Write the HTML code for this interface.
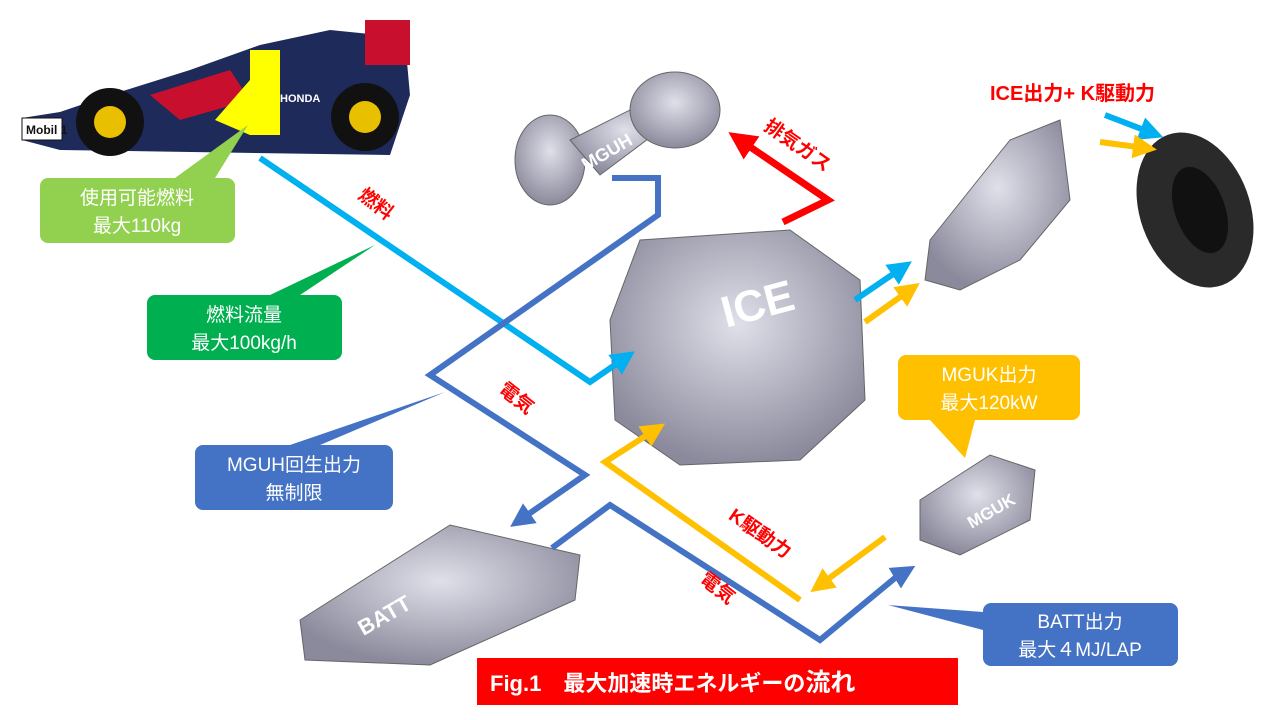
<!DOCTYPE html>
<html><head><meta charset="utf-8"><style>
body{margin:0;background:#fff;}
svg{display:block;font-family:"Liberation Sans","Noto Sans CJK JP",sans-serif;}
</style></head><body>
<svg width="1280" height="720" viewBox="0 0 1280 720">
<defs>
<marker id="ab" markerWidth="4" markerHeight="4" refX="2" refY="2" orient="auto"><path d="M0,0 L4,2 L0,4 z" fill="#00b0f0"/></marker>
<marker id="ad" markerWidth="4" markerHeight="4" refX="2" refY="2" orient="auto"><path d="M0,0 L4,2 L0,4 z" fill="#4472c4"/></marker>
<marker id="ao" markerWidth="4" markerHeight="4" refX="2" refY="2" orient="auto"><path d="M0,0 L4,2 L0,4 z" fill="#ffc000"/></marker>
<marker id="ar" markerWidth="4" markerHeight="4" refX="2" refY="2" orient="auto"><path d="M0,0 L4,2 L0,4 z" fill="#ff0000"/></marker>
<radialGradient id="gm" cx="50%" cy="40%" r="60%"><stop offset="0" stop-color="#e0e0ea"/><stop offset="1" stop-color="#8a8a9c"/></radialGradient>
</defs>

<!-- car -->
<path d="M22,118 L60,112 L110,95 L190,70 L260,45 L330,30 L380,35 L405,40 L410,95 L390,155 L60,150 L22,140z" fill="#1e2a5a"/>
<path d="M150,95 L230,70 L250,100 L180,120z" fill="#c8102e"/>
<rect x="365" y="20" width="45" height="45" fill="#c8102e"/>
<circle cx="110" cy="122" r="34" fill="#111"/><circle cx="110" cy="122" r="16" fill="#e8c000"/>
<circle cx="365" cy="117" r="34" fill="#111"/><circle cx="365" cy="117" r="16" fill="#e8c000"/>
<rect x="22" y="118" width="40" height="22" fill="#fff" stroke="#111"/>
<text x="26" y="134" font-size="12" font-weight="bold" fill="#111">Mobil 1</text>
<text x="280" y="102" font-size="11" font-weight="bold" fill="#fff">HONDA</text>
<polygon points="215,120 250,80 250,50 280,50 280,135 250,135" fill="#ffff00"/>

<!-- machines -->
<g fill="url(#gm)" stroke="#666" stroke-width="1">
<ellipse cx="550" cy="160" rx="35" ry="45"/>
<path d="M570,140 L650,100 L680,115 L600,175z"/>
<ellipse cx="675" cy="110" rx="45" ry="38"/>
<path d="M640,240 L790,230 L860,280 L865,400 L800,460 L680,465 L615,420 L610,320z"/>
<path d="M930,240 L1010,140 L1060,120 L1070,200 L1020,260 L960,290 L925,280z"/>
<path d="M300,620 L450,525 L580,555 L575,600 L430,665 L305,660z"/>
<path d="M920,500 L990,455 L1035,470 L1030,520 L960,555 L920,540z"/>
</g>
<ellipse cx="1195" cy="210" rx="55" ry="80" fill="#2a2a2a" transform="rotate(-20 1195 210)"/>
<ellipse cx="1200" cy="210" rx="25" ry="45" fill="#111" transform="rotate(-20 1200 210)"/>
<text x="720" y="318" font-size="44" font-weight="bold" fill="#fff" transform="rotate(-15 760 300)">ICE</text>
<text x="580" y="162" font-size="18" font-weight="bold" fill="#fff" transform="rotate(-30 600 155)">MGUH</text>
<text x="355" y="625" font-size="22" font-weight="bold" fill="#fff" transform="rotate(-30 380 615)">BATT</text>
<text x="965" y="520" font-size="17" font-weight="bold" fill="#fff" transform="rotate(-30 985 512)">MGUK</text>

<!-- lines -->
<g fill="none" stroke-width="6">
<polyline points="260,158 590,382 625,358" stroke="#00b0f0" marker-end="url(#ab)"/>
<polyline points="612,178 658,178 658,215 430,375 585,475 520,520" stroke="#4472c4" marker-end="url(#ad)"/>
<polyline points="552,548 610,505 820,640 895,578 905,572" stroke="#4472c4" marker-end="url(#ad)"/>
<polyline points="800,600 605,462 655,430" stroke="#ffc000" marker-end="url(#ao)"/>
<polyline points="885,537 820,585" stroke="#ffc000" marker-end="url(#ao)"/>
<polyline points="783,222 828,200 740,140" stroke="#ff0000" stroke-width="7" marker-end="url(#ar)"/>
<line x1="855" y1="300" x2="902" y2="268" stroke="#00b0f0" marker-end="url(#ab)"/>
<line x1="865" y1="322" x2="910" y2="290" stroke="#ffc000" marker-end="url(#ao)"/>
<line x1="1105" y1="115" x2="1152" y2="133" stroke="#00b0f0" marker-end="url(#ab)"/>
<line x1="1100" y1="142" x2="1145" y2="148" stroke="#ffc000" marker-end="url(#ao)"/>
</g>

<!-- labels -->
<g font-weight="bold" fill="#ff0000" font-size="19">
<text x="352" y="208" transform="rotate(38 370 210)">燃料</text>
<text x="493" y="405" transform="rotate(38 515 405)">電気</text>
<text x="720" y="538" transform="rotate(35 755 540)">K駆動力</text>
<text x="693" y="598" transform="rotate(38 720 598)">電気</text>
<text x="750" y="150" transform="rotate(35 790 160)">排気ガス</text>
<text x="990" y="100" font-size="20">ICE出力+ K駆動力</text>
</g>

<!-- callouts -->
<g font-size="19" fill="#fff" text-anchor="middle">
<path d="M248,125 L215,178 L175,178 z" fill="#92d050"/>
<rect x="40" y="178" width="195" height="65" rx="8" fill="#92d050"/>
<text x="137" y="204">使用可能燃料</text><text x="137" y="232">最大110kg</text>

<path d="M375,245 L300,295 L270,295 z" fill="#00b050"/>
<rect x="147" y="295" width="195" height="65" rx="8" fill="#00b050"/>
<text x="244" y="321">燃料流量</text><text x="244" y="349">最大100kg/h</text>

<path d="M445,392 L320,445 L290,445 z" fill="#4472c4"/>
<rect x="195" y="445" width="198" height="65" rx="8" fill="#4472c4"/>
<text x="294" y="471">MGUH回生出力</text><text x="294" y="499">無制限</text>

<path d="M965,458 L930,420 L975,420 z" fill="#ffc000"/>
<rect x="898" y="355" width="182" height="65" rx="8" fill="#ffc000"/>
<text x="989" y="381">MGUK出力</text><text x="989" y="409">最大120kW</text>

<path d="M888,605 L983,612 L983,630 z" fill="#4472c4"/>
<rect x="983" y="603" width="195" height="63" rx="8" fill="#4472c4"/>
<text x="1080" y="628">BATT出力</text><text x="1080" y="656">最大４MJ/LAP</text>
</g>

<rect x="477" y="658" width="481" height="47" fill="#ff0000"/>
<text x="490" y="691" font-size="22" font-weight="bold" fill="#fff">Fig.1　最大加速時エネルギーの<tspan font-size="25">流れ</tspan></text>
</svg>
</body></html>
